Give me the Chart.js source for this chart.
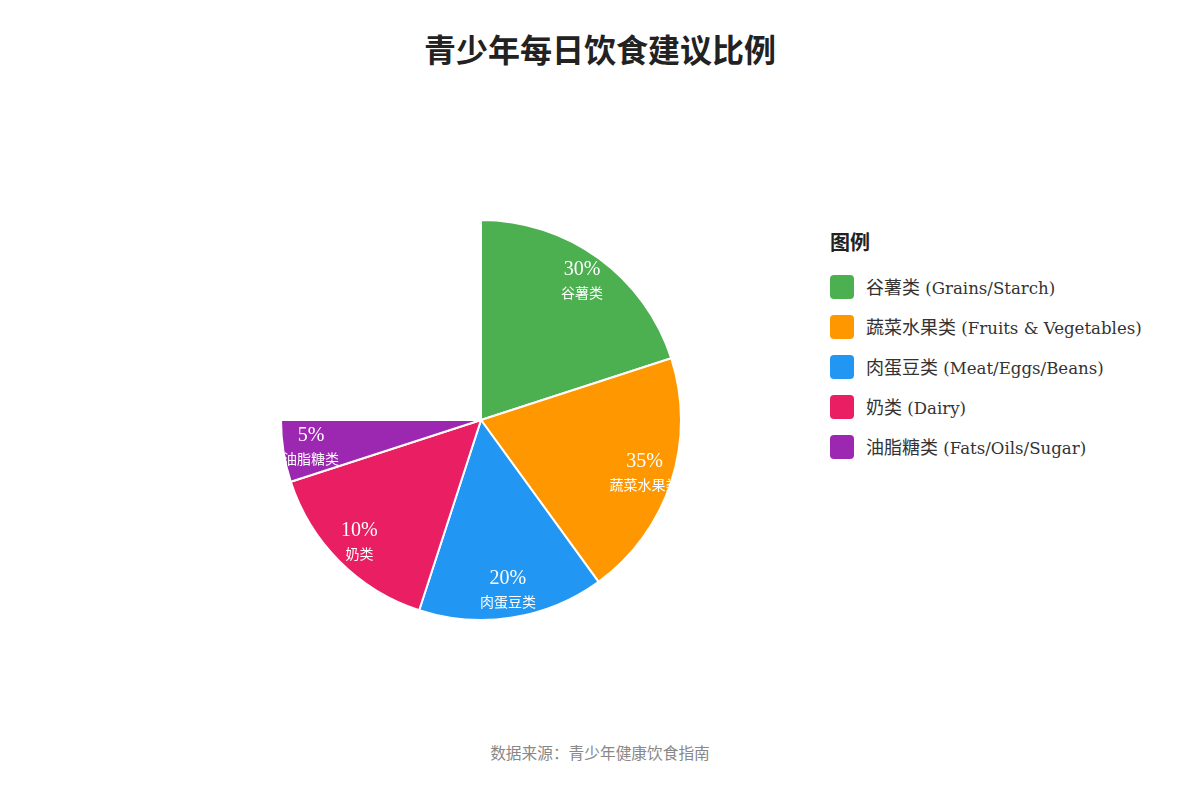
<!DOCTYPE html>
<html lang="zh-CN">
<head>
<meta charset="utf-8">
<title>青少年每日饮食建议比例</title>
<script src="https://cdn.jsdelivr.net/npm/chart.js@4.4.1/dist/chart.umd.min.js"></script>
<style>
  html, body { margin: 0; padding: 0; background: #ffffff; }
  body { width: 1200px; height: 800px; position: relative; overflow: hidden; }
  #title {
    position: absolute; left: 0; top: 28px; width: 1200px; text-align: center;
    font-family: "Noto Sans CJK SC", sans-serif; font-weight: 700; font-size: 32px;
    line-height: 40px; color: #222222;
  }
  #chartBox { position: absolute; left: 261px; top: 200px; width: 440px; height: 440px; }
  #legend {
    position: absolute; left: 830px; top: 230px;
    font-family: "DejaVu Serif", "Noto Sans CJK SC", serif; color: #333333;
  }
  #legend .ltitle {
    font-family: "Noto Sans CJK SC", sans-serif; font-weight: 700; font-size: 20px;
    line-height: 24px; height: 24px; margin-bottom: 21px; color: #222222;
  }
  #legend .item { display: flex; align-items: center; height: 24px; margin-bottom: 16px; }
  #legend .box { width: 24px; height: 24px; border-radius: 4px; margin-right: 12px; flex: none; }
  #legend .txt { font-size: 16.6px; line-height: 24px; white-space: nowrap; }
  #legend .cjk { font-family: "Noto Sans CJK SC", sans-serif; font-size: 18px; }
  #footer {
    position: absolute; left: 0; top: 742px; width: 1200px; text-align: center;
    font-family: "Noto Sans CJK SC", sans-serif; font-size: 15.7px; line-height: 22px; color: #888888;
  }
</style>
</head>
<body>
<div id="title">青少年每日饮食建议比例</div>
<div id="chartBox"><canvas id="pie" width="440" height="440"></canvas></div>
<div id="legend"></div>
<div id="footer">数据来源：青少年健康饮食指南</div>
<script>
// ---- data ----
const categories = ['谷薯类', '蔬菜水果类', '肉蛋豆类', '奶类', '油脂糖类'];
const englishNames = ['Grains/Starch', 'Fruits & Vegetables', 'Meat/Eggs/Beans', 'Dairy', 'Fats/Oils/Sugar'];
const percentLabels = [30, 35, 20, 10, 5];          // percentages printed on the slices
const sliceSpans = [72, 72, 54, 54, 18];             // slice sizes as drawn (degrees of a 270° pie)
const sliceColors = ['#4CAF50', '#FF9800', '#2196F3', '#E91E63', '#9C27B0'];
const legendTitle = '图例';

const sliceLabelPlugin = {
  id: 'sliceLabels',
  afterDatasetsDraw(chart) {
    const ctx = chart.ctx;
    const meta = chart.getDatasetMeta(0);
    ctx.save();
    ctx.fillStyle = '#ffffff';
    ctx.textAlign = 'center';
    ctx.textBaseline = 'middle';
    meta.data.forEach((arc, i) => {
      const p = arc.getProps(['x', 'y', 'startAngle', 'endAngle', 'outerRadius'], true);
      const mid = (p.startAngle + p.endAngle) / 2;
      const r = p.outerRadius * 0.86;
      const cx = p.x + Math.cos(mid) * r;
      const cy = p.y + Math.sin(mid) * r;
      ctx.font = '20px "Liberation Serif", serif';
      ctx.fillText(percentLabels[i] + '%', cx, cy - 11);
      ctx.font = '14px "Noto Sans CJK SC", sans-serif';
      ctx.fillText(categories[i], cx, cy + 12);
    });
    ctx.restore();
  }
};

const chart = new Chart(document.getElementById('pie'), {
  type: 'pie',
  data: {
    labels: categories.map((c, i) => c + ' (' + englishNames[i] + ')'),
    datasets: [{
      data: sliceSpans,
      backgroundColor: sliceColors,
      borderColor: '#ffffff',
      borderWidth: 2,
      radius: 200
    }]
  },
  options: {
    responsive: false,
    animation: false,
    rotation: 0,
    circumference: 270,
    layout: { padding: 0 },
    plugins: {
      legend: { display: false },
      tooltip: { enabled: false },
      title: { display: false }
    }
  },
  plugins: [sliceLabelPlugin]
});

// HTML legend built from the chart's own legend items
(function buildLegend() {
  const host = document.getElementById('legend');
  const t = document.createElement('div');
  t.className = 'ltitle';
  t.textContent = legendTitle;
  host.appendChild(t);
  const items = chart.options.plugins.legend.labels.generateLabels(chart);
  items.forEach((it, i) => {
    const row = document.createElement('div');
    row.className = 'item';
    const box = document.createElement('span');
    box.className = 'box';
    box.style.background = it.fillStyle;
    const txt = document.createElement('span');
    txt.className = 'txt';
    const cjk = document.createElement('span');
    cjk.className = 'cjk';
    cjk.textContent = categories[i];
    txt.appendChild(cjk);
    txt.appendChild(document.createTextNode(' (' + englishNames[i] + ')'));
    row.appendChild(box);
    row.appendChild(txt);
    host.appendChild(row);
  });
})();
</script>
</body>
</html>
